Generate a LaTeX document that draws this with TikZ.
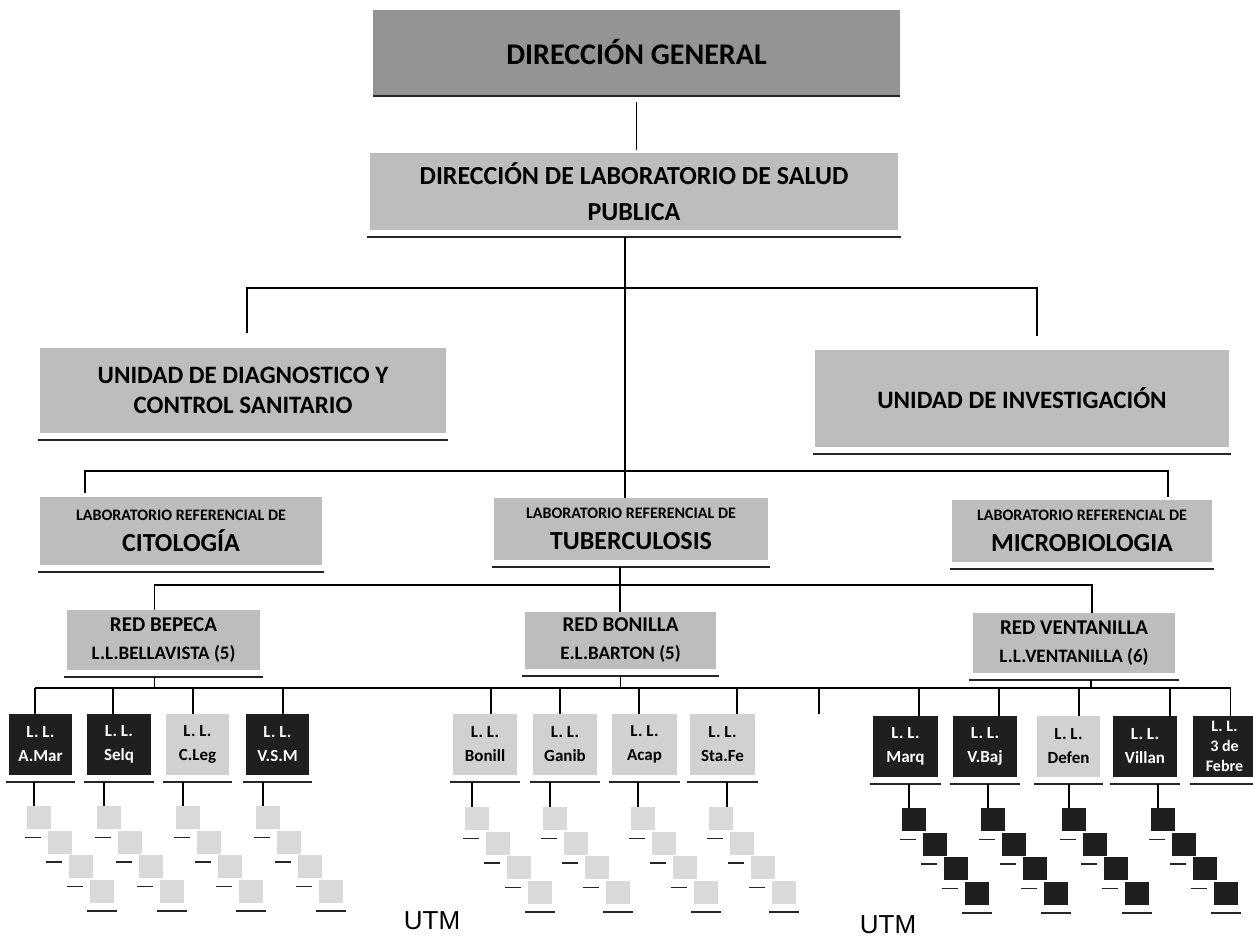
\documentclass[tikz,border=0pt]{standalone}
\usepackage{fontspec}
\setmainfont{Carlito}
\newfontfamily\utmfont{Liberation Sans}
\usetikzlibrary{calc}
\definecolor{boxgray}{gray}{0.74}
\definecolor{dggray}{gray}{0.58}
\definecolor{labgray}{gray}{0.82}
\definecolor{smgray}{gray}{0.85}
\definecolor{darkfill}{gray}{0.12}
\newcommand\smalltitle{\bfseries\fontsize{16}{18}\selectfont}
\newcommand\bigtitle{\bfseries\fontsize{26}{30}\selectfont}
\newcommand\redone{\bfseries\fontsize{21}{28}\selectfont}
\newcommand\redtwo{\bfseries\fontsize{19}{28}\selectfont}
\tikzset{
  conn/.style={line width=1.6pt, black},
  uline/.style={line width=1.8pt, black!85},
  tick/.style={line width=1.4pt, black!85},
  bigbox/.style={fill=boxgray, inner sep=0pt, align=center, text=black},
  dgbox/.style={fill=dggray, inner sep=0pt, align=center, text=black,
    font=\bfseries\fontsize{30}{34}\selectfont},
  labbox/.style={bigbox, font=\bigtitle},
  redbox/.style={bigbox, font=\redone},
  labdark/.style={fill=darkfill, inner sep=0pt, align=center, text=white,
    font=\bfseries\fontsize{17}{24}\selectfont},
  lablight/.style={fill=labgray, inner sep=0pt, align=center, text=black,
    font=\bfseries\fontsize{17}{24}\selectfont},
  smlight/.style={fill=smgray, minimum width=24pt, minimum height=23pt, inner sep=0pt},
  smdark/.style={fill=darkfill, minimum width=24pt, minimum height=23pt, inner sep=0pt},
  utm/.style={font=\utmfont\fontsize{26}{28}\selectfont, inner sep=0pt}
}
% #1 name, #2 x1, #3 y1, #4 x2, #5 y2, #6 style, #7 text
\newcommand\mkbox[7]{\node[#6, minimum width=#4pt-#2pt, minimum height=#5pt-#3pt] (#1) at ({(#2+#4)/2},{(#3+#5)/2}) {#7};}
% underline below a box
\newcommand\ulin[2]{\draw[uline] ([xshift=-#1pt,yshift=-7pt]#2.south west) -- ([xshift=#1pt,yshift=-7pt]#2.south east);
  \coordinate (#2-ul) at ([yshift=-7pt]#2.south);}
% staircase of four small boxes: #1 lab, #2 x1, #3 y1, #4 style, #5 drop offset
\newcommand\stair[5]{%
  \foreach \k in {1,2,3,4}{\node[#4] (#1s\k) at ({#2+12+21*(\k-1)},{#3+11.5+24.5*(\k-1)}) {};}
  \coordinate (#1sd) at ([xshift=#5pt]#1s1.north west);
  \draw[conn] (#1sd) -- (#1sd |- #1-ul);
  \foreach \k in {2,3,4}{\draw[tick] ([xshift=-23pt,yshift=-7pt]#1s\k.north west) -- ([xshift=-7pt,yshift=-7pt]#1s\k.north west);}
  \draw[uline] ([xshift=-3pt,yshift=-8pt]#1s4.south west) -- ([xshift=3pt,yshift=-8pt]#1s4.south east);
}
% drop from bus b4 into lab box: #1 lab, #2 x offset
\newcommand\labdrop[2]{\coordinate (#1d) at ([xshift=#2pt]#1.north); \draw[conn] (#1d) -- (#1d |- b4);}
\begin{document}
\begin{tikzpicture}[x=1pt,y=-1pt]
\useasboundingbox[fill=white] (0,0) rectangle (1253,941);

% ---------- top levels ----------
\mkbox{dg}{373}{10}{900}{95}{dgbox}{DIRECCIÓN GENERAL}
\draw[uline] ([yshift=-1pt]dg.south west) -- ([yshift=-1pt]dg.south east);
\mkbox{dlsp}{370}{153}{898}{230}{bigbox, font=\bfseries\fontsize{26}{36}\selectfont}{DIRECCIÓN DE LABORATORIO DE SALUD\\PUBLICA}
\ulin{3}{dlsp}
\draw[conn, shorten <=7pt, shorten >=3pt] (dg.south) -- (dg.south |- dlsp.north);

\mkbox{udcs}{40}{348}{446}{433}{bigbox, font=\bfseries\fontsize{25}{30}\selectfont}{UNIDAD DE DIAGNOSTICO Y\\CONTROL SANITARIO}
\ulin{2}{udcs}
\mkbox{ui}{815}{350}{1229}{447}{bigbox, font=\bfseries\fontsize{25}{30}\selectfont}{UNIDAD DE INVESTIGACIÓN}
\ulin{2}{ui}

\mkbox{cito}{40}{497}{322}{565}{labbox}{{\smalltitle LABORATORIO REFERENCIAL DE}\\[1pt]CITOLOGÍA}
\ulin{2}{cito}
\mkbox{tb}{494}{498}{768}{560}{labbox}{{\smalltitle LABORATORIO REFERENCIAL DE}\\[1pt]TUBERCULOSIS}
\ulin{2}{tb}
\mkbox{micro}{952}{500}{1212}{562}{labbox}{{\smalltitle LABORATORIO REFERENCIAL DE}\\[1pt]MICROBIOLOGIA}
\ulin{2}{micro}

% trunk and first two buses
\coordinate (trk) at ([xshift=-9pt]dlsp-ul);
\draw[conn] (trk) -- (trk |- tb.north);
\coordinate (b1) at (625,288);
\draw[conn, shorten <=15pt, shorten >=14pt] ([xshift=4pt]udcs.north) |- (b1) -| ([xshift=15pt]ui.north);
\coordinate (b2) at (625,471);
\draw[conn, shorten <=4pt, shorten >=3pt] ([xshift=-96pt]cito.north) |- (b2) -| ([xshift=86pt]micro.north);

% ---------- redes ----------
\mkbox{rbep}{67}{610}{260}{670}{redbox}{RED BEPECA\\{\redtwo L.L.BELLAVISTA (5)}}
\ulin{3}{rbep}
\mkbox{rbon}{525}{612}{716}{669}{redbox}{RED BONILLA\\{\redtwo E.L.BARTON (5)}}
\ulin{3}{rbon}
\mkbox{rven}{973}{613}{1175}{673}{redbox}{RED VENTANILLA\\{\redtwo L.L.VENTANILLA (6)}}
\ulin{4}{rven}

\coordinate (tbd) at ([xshift=-11pt]tb-ul);
\coordinate (b3) at (620,585);
\draw[conn] (tbd) -- (tbd |- b3);
\draw[conn] ([xshift=-9pt]rbep.north) |- (b3) -| ([xshift=18pt]rven.north);
\draw[conn] (b3) -- (b3 |- rbon.north);

% ---------- laboratorios locales ----------
\mkbox{amar}{9}{714}{72}{775}{labdark}{L. L.\\A.Mar}
\mkbox{selq}{87}{714}{151}{775}{labdark}{L. L.\\Selq}
\mkbox{cleg}{166}{714}{229}{775}{lablight}{L. L.\\C.Leg}
\mkbox{vsm}{246}{714}{309}{775}{labdark}{L. L.\\V.S.M}
\mkbox{bonill}{453}{714}{517}{775}{lablight}{L. L.\\Bonill}
\mkbox{ganib}{533}{714}{597}{775}{lablight}{L. L.\\Ganib}
\mkbox{acap}{612}{714}{677}{775}{lablight}{L. L.\\Acap}
\mkbox{stafe}{690}{714}{755}{775}{lablight}{L. L.\\Sta.Fe}
\mkbox{marq}{873}{716}{938}{777}{labdark}{L. L.\\Marq}
\mkbox{vbaj}{953}{716}{1017}{777}{labdark}{L. L.\\V.Baj}
\mkbox{defen}{1037}{716}{1100}{777}{lablight}{L. L.\\Defen}
\mkbox{villa}{1113}{716}{1177}{777}{labdark}{L. L.\\Villan}
\mkbox{febre}{1193}{716}{1256}{777}{labdark, font=\bfseries\fontsize{16}{20}\selectfont}{L. L.\\3 de\\Febre}
\foreach \n in {amar,selq,cleg,vsm,bonill,ganib,acap,stafe,marq,vbaj,defen,villa,febre}{\ulin{3}{\n}}

\coordinate (b4) at (619,688);
\coordinate (rbepd) at ([xshift=-9pt]rbep-ul);
\draw[conn] (rbepd) -- (rbepd |- b4);
\draw[conn] (rbon-ul) -- (rbon-ul |- b4);
\coordinate (rvend) at ([xshift=17pt]rven-ul);
\draw[conn] (rvend) -- (rvend |- b4);

\labdrop{amar}{-5.5}
\labdrop{selq}{-6}
\labdrop{cleg}{-4.5}
\labdrop{vsm}{5.5}
\labdrop{bonill}{6}
\labdrop{ganib}{-5}
\labdrop{acap}{-5.5}
\labdrop{stafe}{14.5}
\labdrop{marq}{13.5}
\labdrop{vbaj}{14}
\labdrop{defen}{10.5}
\labdrop{villa}{25}
\labdrop{febre}{6}
\coordinate (stub) at (819,714);
\draw[conn] (stub) -- (stub |- b4);
\draw[conn] (amard |- b4) -- (febred |- b4);

% ---------- staircases ----------
\stair{amar}{27}{806}{smlight}{7}
\stair{selq}{97}{806}{smlight}{7}
\stair{cleg}{176}{806}{smlight}{7}
\stair{vsm}{256}{806}{smlight}{7}
\stair{bonill}{465}{807}{smlight}{7}
\stair{ganib}{543}{807}{smlight}{7}
\stair{acap}{631}{807}{smlight}{7}
\stair{stafe}{709}{807}{smlight}{18}
\stair{marq}{902}{808}{smdark}{7}
\stair{vbaj}{981}{808}{smdark}{7}
\stair{defen}{1062}{808}{smdark}{7}
\stair{villa}{1151}{808}{smdark}{7}

% ---------- labels ----------
\node[utm] (utm1) at (432,921) {UTM};
\node[utm] (utm2) at (888,925) {UTM};
\end{tikzpicture}
\end{document}
